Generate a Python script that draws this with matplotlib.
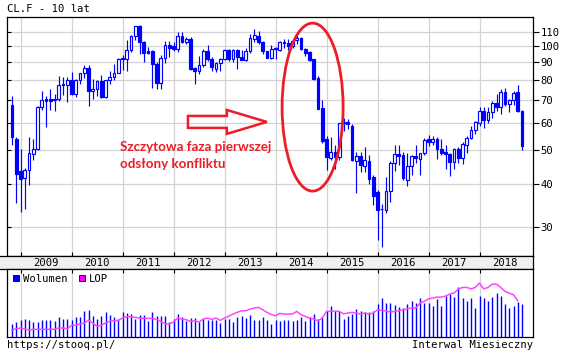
import numpy as np
import pandas as pd
import matplotlib
matplotlib.use("Agg")
import matplotlib.pyplot as plt
from matplotlib.patches import Ellipse, Polygon, Rectangle

# monthly CL.F candles, Nov 2008 - Nov 2018
months = pd.date_range("2008-11-01", periods=121, freq="MS")

opens = [67.6, 54.0, 43.6, 41.7, 44.0, 48.8, 50.6, 66.7, 70.4, 70.2, 69.8, 70.3,
         77.6, 77.4, 80.0, 72.5, 79.6, 83.6, 86.4, 74.1, 75.0, 79.2, 71.2, 79.8,
         81.4, 83.8, 92.5, 91.9, 97.2, 106.7, 113.9, 102.7, 96.8, 96.5, 88.5, 78.4,
         92.5, 100.5, 99.8, 98.2, 106.9, 102.7, 105.0, 86.6, 85.0, 87.9, 96.7, 91.9,
         85.6, 89.3, 91.9, 97.2, 91.9, 97.5, 93.0, 91.2, 96.6, 105.0, 107.0, 102.7,
         96.5, 92.5, 98.6, 97.2, 102.7, 102.0, 100.3, 104.3, 105.7, 97.8, 96.1, 91.9,
         80.8, 66.2, 54.0, 47.4, 49.5, 47.8, 59.9, 60.3, 59.0, 46.5, 48.1, 45.0,
         46.5, 41.9, 37.9, 33.9, 33.7, 38.2, 46.0, 48.9, 48.4, 41.2, 45.1, 48.3,
         47.3, 49.3, 54.1, 52.8, 53.8, 50.6, 49.5, 48.7, 46.4, 50.6, 47.6, 51.8,
         54.4, 57.4, 60.1, 64.9, 61.3, 64.5, 68.3, 66.8, 73.8, 68.2, 69.8, 73.5,
         65.0]
highs = [71.7, 54.5, 50.5, 44.5, 54.6, 53.8, 67.0, 74.1, 71.6, 75.3, 72.9, 81.8,
         81.6, 81.4, 84.1, 80.5, 83.9, 88.0, 88.0, 80.2, 79.8, 82.5, 80.0, 84.7,
         88.9, 92.1, 94.0, 104.0, 107.5, 114.5, 114.7, 103.5, 99.3, 97.5, 90.0, 94.5,
         103.4, 103.4, 103.0, 109.8, 109.8, 106.0, 106.5, 86.8, 93.4, 98.0, 100.4, 92.8,
         90.0, 92.5, 98.0, 98.2, 98.0, 98.0, 97.2, 98.5, 108.5, 112.2, 110.5, 103.5,
         97.0, 100.5, 99.3, 103.5, 105.0, 104.5, 104.5, 107.4, 106.0, 99.0, 96.5, 92.0,
         82.0, 69.7, 54.9, 54.5, 52.0, 60.0, 62.0, 61.7, 59.5, 49.4, 49.5, 51.2,
         48.5, 42.5, 38.5, 35.0, 41.9, 46.5, 51.9, 51.9, 49.6, 49.0, 48.4, 52.0,
         49.0, 54.3, 55.3, 55.0, 54.6, 53.8, 52.0, 49.0, 50.7, 51.0, 53.0, 55.0,
         59.0, 60.6, 66.7, 66.5, 66.5, 69.6, 72.9, 75.0, 75.5, 70.5, 74.0, 77.1,
         65.5]
lows = [51.7, 35.3, 33.3, 33.8, 39.7, 47.0, 50.0, 65.5, 58.4, 65.3, 64.9, 69.5,
        72.4, 68.9, 72.4, 71.5, 77.5, 80.8, 67.1, 70.2, 71.9, 70.8, 70.8, 77.5,
        80.0, 83.5, 85.2, 84.5, 96.0, 104.0, 95.0, 89.9, 94.6, 75.8, 75.3, 75.3,
        89.5, 92.9, 96.5, 96.3, 102.0, 101.5, 85.5, 77.8, 83.0, 87.0, 90.5, 85.0,
        84.0, 84.5, 91.0, 90.5, 90.0, 86.0, 90.9, 90.5, 95.5, 102.7, 101.5, 95.0,
        92.3, 92.0, 91.9, 96.5, 98.5, 97.5, 99.0, 101.5, 97.5, 93.4, 90.3, 79.7,
        65.7, 52.5, 43.8, 46.8, 44.2, 47.0, 57.0, 57.6, 46.5, 37.8, 43.4, 43.4,
        40.1, 34.7, 27.6, 26.3, 33.0, 35.5, 43.5, 45.5, 41.0, 39.5, 42.4, 46.0,
        42.4, 48.5, 51.5, 51.8, 47.2, 48.5, 44.1, 42.1, 44.1, 46.0, 45.8, 49.2,
        53.8, 55.8, 59.0, 58.1, 59.9, 62.0, 64.8, 63.6, 67.0, 64.5, 67.5, 64.5,
        50.1]
closes = [54.6, 42.7, 41.4, 43.8, 49.1, 50.6, 66.7, 70.0, 69.4, 69.6, 70.4, 77.0,
          77.0, 80.0, 72.5, 79.6, 83.6, 86.4, 74.1, 75.0, 79.2, 71.2, 79.8, 81.4,
          83.8, 91.7, 91.9, 97.2, 106.7, 113.9, 102.7, 95.4, 95.6, 88.5, 78.4, 92.5,
          100.5, 98.9, 98.2, 106.9, 102.7, 105.0, 86.0, 85.0, 87.9, 96.7, 91.9, 87.0,
          89.3, 91.9, 97.2, 91.9, 97.5, 93.0, 91.2, 96.6, 105.7, 107.4, 102.7, 96.5,
          92.5, 98.2, 97.8, 102.7, 102.0, 99.8, 103.5, 105.7, 97.8, 95.6, 91.3, 80.4,
          65.9, 53.4, 47.8, 49.5, 47.8, 59.9, 60.3, 59.4, 46.8, 48.1, 45.3, 46.8,
          41.4, 36.9, 33.7, 33.8, 38.2, 46.0, 48.9, 48.3, 41.5, 45.1, 48.3, 47.5,
          49.3, 53.7, 52.8, 54.1, 50.6, 49.1, 48.8, 46.4, 50.5, 47.6, 52.2, 54.4,
          57.3, 60.4, 64.9, 61.3, 64.5, 68.3, 66.6, 73.8, 68.2, 69.7, 73.3, 65.0,
          51.5]

# volume (Wolumen) and open interest (LOP), relative units
volume = [12.5, 14.5, 16.2, 17.5, 16.2, 14.5, 14.5, 16.2, 16.2, 16.8, 15.2, 19.5,
          17.5, 17.5, 16.2, 19.5, 19.5, 25.8, 26.5, 20.2, 17.5, 20.2, 24.5, 21.8,
          19.5, 17.5, 24.5, 23.5, 22.8, 17.5, 21.8, 21.8, 15.2, 24.5, 20.2, 20.2,
          20.2, 14.5, 17.5, 22.8, 19.5, 15.2, 18.5, 18.5, 14.5, 17.5, 16.8, 16.8,
          16.2, 13.5, 17.5, 17.5, 14.5, 19.5, 20.2, 18.5, 21.8, 16.8, 16.2, 19.5,
          16.2, 12.5, 16.8, 15.8, 16.8, 16.8, 15.8, 16.8, 19.5, 15.8, 19.5, 22.8,
          17.8, 19.5, 25.8, 30.5, 25.8, 25.2, 17.8, 20.8, 22.8, 27.8, 25.8, 24.5,
          24.5, 25.8, 32.8, 38.5, 33.8, 33.8, 31.8, 29.5, 28.5, 32.8, 35.5, 33.8,
          38.5, 33.8, 33.8, 30.8, 37.2, 30.8, 40.5, 42.8, 39.2, 49.5, 38.8, 35.8,
          38.8, 28.5, 40.5, 38.8, 35.5, 39.5, 43.8, 40.5, 32.8, 28.8, 30.5, 34.8,
          32.5]
lop = [6.5, 7.8, 8.5, 7.5, 6.5, 7.2, 7.2, 7.2, 7.2, 7.2, 7.2, 8.5,
       8.5, 7.8, 11.2, 11.2, 12.5, 13.5, 16.2, 13.5, 10.2, 11.2, 13.5, 15.2,
       15.8, 16.2, 18.5, 19.8, 19.8, 19.2, 18.5, 18.2, 18.2, 18.2, 17.2, 15.2,
       12.8, 12.5, 14.5, 18.5, 17.5, 16.8, 15.2, 15.8, 14.5, 17.5, 18.5, 17.2,
       18.5, 16.2, 18.5, 20.5, 22.5, 24.2, 25.8, 25.8, 27.5, 28.5, 29.2, 26.8,
       24.2, 22.0, 20.8, 23.2, 22.5, 22.5, 22.5, 25.2, 21.8, 20.2, 18.5, 17.5,
       15.8, 18.5, 25.2, 25.2, 25.5, 25.2, 22.8, 23.5, 24.2, 23.5, 22.5, 23.5,
       22.5, 23.5, 26.8, 26.2, 25.5, 24.5, 25.2, 25.8, 26.8, 27.8, 28.5, 28.5,
       33.5, 35.2, 37.8, 38.5, 39.5, 39.5, 40.5, 42.5, 43.5, 47.5, 49.2, 49.2,
       47.8, 49.2, 53.5, 47.8, 49.2, 52.5, 52.5, 49.2, 45.2, 43.5, 41.8, 35.8,
       np.nan]

BLUE = "#0000ff"
MAGENTA = "#ff44ff"
RED = "#ee1c25"
GRID = "#d4d4d4"
MONO = "DejaVu Sans Mono"
FS = 7.6
PX = 0.72  # one pixel in points

W, H = 562, 356
fig = plt.figure(figsize=(W / 100, H / 100), dpi=100)

def frac(x0, y0, x1, y1):
    return [x0 / W, 1 - y1 / H, (x1 - x0) / W, (y1 - y0) / H]

ax = fig.add_axes(frac(7, 17, 533, 256))
strip = fig.add_axes(frac(0, 256, 533, 268.7))
axv = fig.add_axes(frac(7, 268.7, 533, 336.5))

x = np.arange(len(months))
o = np.array(opens); c = np.array(closes)
hi = np.array(highs); lo = np.array(lows)
up = c >= o

# x range: first candle 5 px from the left frame, 4.25 px per month
px_per_month = 4.25
xmin = -5 / px_per_month
xmax = xmin + 526 / px_per_month

year_starts = x[months.month == 1]
years = months.year[months.month == 1]

# ---- price panel ----
ax.set_yscale("log")
ax.vlines(x, lo, hi, color=BLUE, lw=0.85, zorder=2)
body_lo = np.minimum(o, c)
body_h = np.abs(c - o)
ax.bar(x[up], body_h[up], bottom=body_lo[up], width=0.6, facecolor="white",
       edgecolor=BLUE, linewidth=0.85, zorder=3)
ax.bar(x[~up], body_h[~up], bottom=body_lo[~up], width=0.6, facecolor=BLUE,
       edgecolor=BLUE, linewidth=0.85, zorder=3)

price_ticks = [30, 40, 50, 60, 70, 80, 90, 100, 110]
ax.set_xlim(xmin, xmax)
ax.set_ylim(24.8, 121.3)
ax.set_yticks(price_ticks)
ax.yaxis.set_minor_locator(matplotlib.ticker.NullLocator())
ax.set_xticks(year_starts)
ax.tick_params(axis="both", direction="in", length=3, width=0.8, labelleft=False,
               labelbottom=False, color="black")
ax.grid(True, color=GRID, lw=0.9, zorder=0)
for s in ax.spines.values():
    s.set_linewidth(0.9)

ax2 = ax.twinx()
ax2.set_yscale("log")
ax2.set_ylim(ax.get_ylim())
ax2.set_yticks(price_ticks)
ax2.set_yticklabels([str(t) for t in price_ticks])
ax2.yaxis.set_minor_locator(matplotlib.ticker.NullLocator())
ax2.tick_params(axis="y", direction="out", length=4, width=0.8, pad=1.5,
                labelsize=FS, labelfontfamily=MONO)
for s in ax2.spines.values():
    s.set_visible(False)

# annotation: ellipse, block arrow, text (axes fraction)
ax.add_patch(Ellipse((0.581, 0.623), 0.116, 0.703, transform=ax.transAxes,
                     fill=False, edgecolor=RED, lw=2.0, zorder=5, clip_on=False))
arrow = [(0.344, 0.536), (0.418, 0.536), (0.418, 0.511), (0.494, 0.561),
         (0.418, 0.611), (0.418, 0.586), (0.344, 0.586)]
ax.add_patch(Polygon(arrow, closed=True, transform=ax.transAxes, fill=False,
                     edgecolor=RED, lw=1.8, zorder=5))
ax.text(0.215, 0.441, "Szczytowa faza pierwszej", transform=ax.transAxes,
        color=RED, fontsize=9.6, fontweight="bold", family="Lato", va="baseline", zorder=6)
ax.text(0.215, 0.367, "odsłony konfliktu", transform=ax.transAxes,
        color=RED, fontsize=9.6, fontweight="bold", family="Lato", va="baseline", zorder=6)

# ---- year strip ----
strip.set_facecolor("#efefef")
strip.set_xlim(xmin - 7 / px_per_month, xmax)
strip.set_ylim(0, 1)
strip.set_xticks([]); strip.set_yticks([])
strip.spines["left"].set_visible(False)
for s in ["top", "bottom", "right"]:
    strip.spines[s].set_linewidth(0.9)
for xs, yr in zip(year_starts, years):
    strip.text(xs + 6, 0.45, str(yr), ha="center", va="center",
               fontsize=FS, family=MONO)

# ---- volume panel ----
axv.vlines(x, 0, volume, color=BLUE, lw=1.0, zorder=2)
axv.plot(x, lop, color=MAGENTA, lw=1.1, zorder=3)
axv.set_xlim(xmin, xmax)
axv.set_ylim(0, 68)
axv.set_xticks(year_starts)
axv.set_yticks([])
axv.tick_params(axis="x", direction="in", length=3, width=0.8, top=True,
                bottom=False, labelbottom=False)
axv.grid(True, axis="x", color=GRID, lw=0.9, zorder=0)
for s in axv.spines.values():
    s.set_linewidth(0.9)

axv.add_patch(Rectangle((0.0114, 0.814), 0.012, 0.0885, transform=axv.transAxes,
                        facecolor=BLUE, edgecolor="black", lw=0.6))
axv.text(0.0304, 0.855, "Wolumen", transform=axv.transAxes, va="center",
         fontsize=FS, family=MONO)
axv.add_patch(Rectangle((0.136, 0.814), 0.012, 0.0885, transform=axv.transAxes,
                        facecolor="#ff00ff", edgecolor="black", lw=0.6))
axv.text(0.155, 0.855, "LOP", transform=axv.transAxes, va="center",
         fontsize=FS, family=MONO)

fig.text(7 / W, 1 - 9 / H, "CL.F - 10 lat", va="center", ha="left",
         fontsize=FS, family=MONO)
fig.text(7 / W, 1 - 345 / H, "https://stooq.pl/", va="center", ha="left",
         fontsize=FS, family=MONO)
fig.text(533 / W, 1 - 345 / H, "Interwal Miesieczny", va="center", ha="right",
         fontsize=FS, family=MONO)

fig.savefig("out.png", dpi=100, facecolor="white")
